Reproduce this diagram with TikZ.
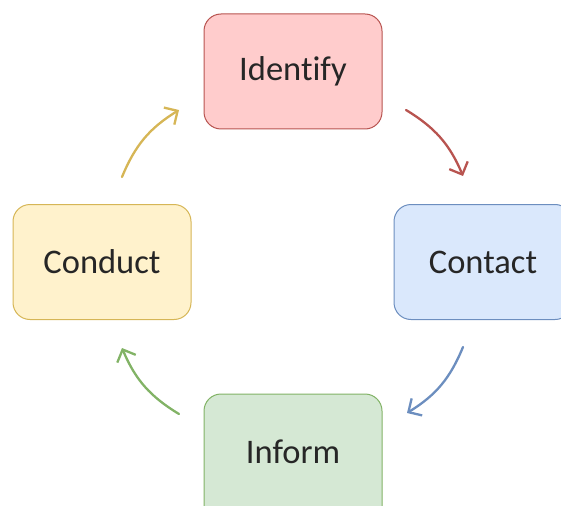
\documentclass[tikz,border=0pt]{standalone}
\usepackage{fontspec}
\setmainfont[Ligatures=NoCommon]{Carlito}
\usetikzlibrary{arrows.meta}
\definecolor{redfill}{HTML}{FFCCCC}\definecolor{redline}{HTML}{B85450}
\definecolor{bluefill}{HTML}{DAE8FC}\definecolor{blueline}{HTML}{6C8EBF}
\definecolor{yelfill}{HTML}{FFF2CC}\definecolor{yelline}{HTML}{D6B656}
\definecolor{grnfill}{HTML}{D5E8D4}\definecolor{grnline}{HTML}{82B366}
\definecolor{txt}{HTML}{262626}
\tikzset{
  stagefont/.style={text=txt, font=\fontsize{34.5}{38}\selectfont},
  stage/.style={rectangle, rounded corners=17pt, line width=1pt, inner sep=0pt,
    minimum width=178pt, minimum height=115pt, stagefont},
  cycle arrow/.style={line width=2.3pt, line cap=round,
    -{Straight Barb[length=10pt, width=20pt, line width=2.3pt]}}
}
\begin{document}
\begin{tikzpicture}[x=1pt, y=-1pt]
  \useasboundingbox (0,0) rectangle (561,505);
  \clip (0,0) rectangle (561,505);
  % four stages
  \node[stage, draw=redline, fill=redfill] (identify) at (293,71.5) {Identify};
  \node[stage, draw=blueline, fill=bluefill] (contact) at (483,262) {Contact};
  \node[stage, draw=yelline, fill=yelfill] (conduct) at (102,262) {Conduct};
  \node[stage, draw=grnline, fill=grnfill, minimum height=130pt] (inform) at (293,459) {};
  \node[stagefont] (informlabel) at (293,451.5) {Inform};
  % connector end points
  \coordinate (r1) at (406,110); \coordinate (r2) at (463,176);
  \coordinate (b1) at (463,347); \coordinate (b2) at (407,413);
  \coordinate (g1) at (179,414); \coordinate (g2) at (122,348);
  \coordinate (y1) at (122,177); \coordinate (y2) at (179,110);
  % cycle arrows
  \draw[cycle arrow, redline] (r1) to[bend left=18] (r2);
  \draw[cycle arrow, blueline] (b1) to[bend left=18] (b2);
  \draw[cycle arrow, grnline] (g1) to[bend left=18] (g2);
  \draw[cycle arrow, yelline] (y1) to[bend left=18] (y2);
\end{tikzpicture}
\end{document}
